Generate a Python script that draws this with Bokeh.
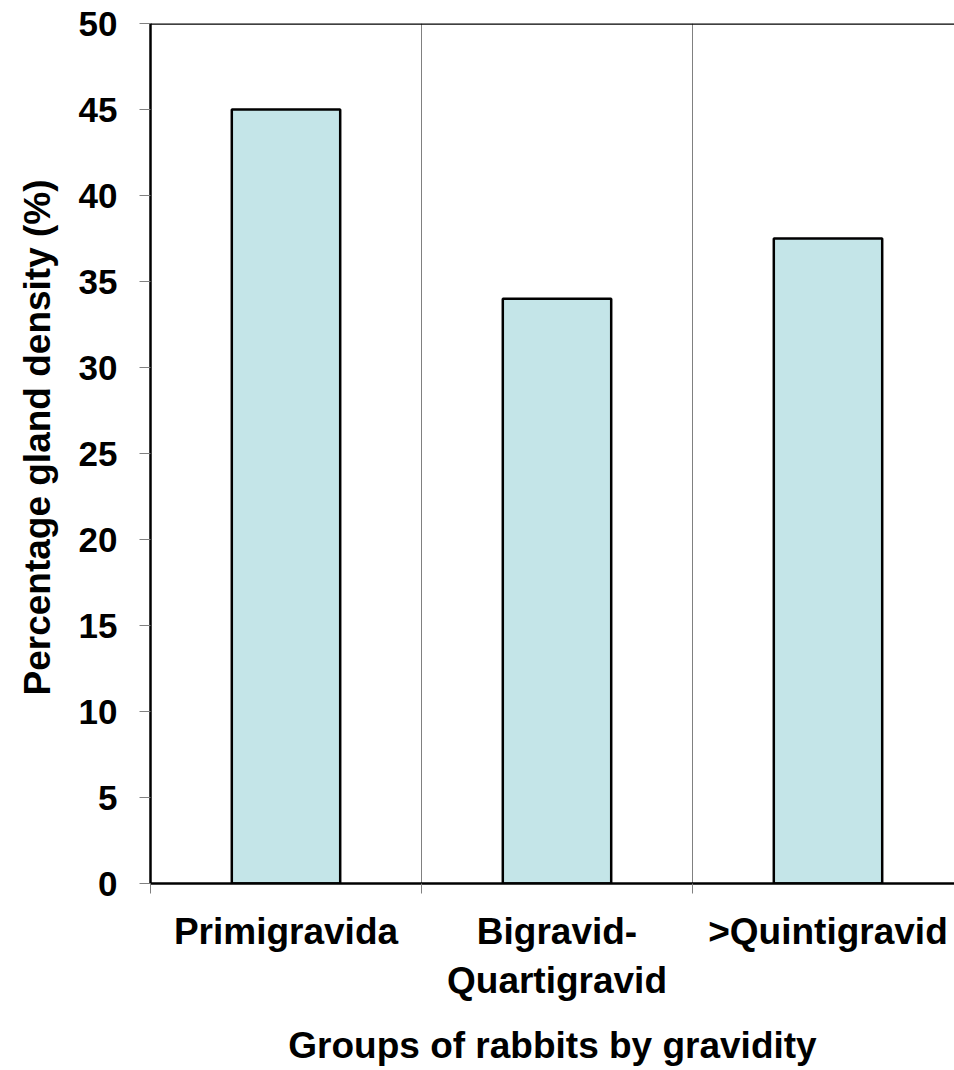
from bokeh.plotting import figure
from bokeh.models import FixedTicker, Range1d, Span, Title
from bokeh.embed import file_html
from bokeh.resources import INLINE

categories = ["Primigravida", "Bigravid-\nQuartigravid", ">Quintigravid"]
values = [45, 34, 37.5]
y_ticks = [0, 5, 10, 15, 20, 25, 30, 35, 40, 45, 50]
x_title = "Groups of rabbits by gravidity"
y_title = "Percentage gland density (%)"

FONT = "Liberation Sans"
xs = [i + 0.5 for i in range(len(categories))]

p = figure(width=954, height=1070, output_backend="svg", toolbar_location=None,
           x_range=Range1d(0, 804 / 271), y_range=Range1d(0, 50),
           min_border_left=150, min_border_top=23, min_border_right=0, min_border_bottom=187)

p.vbar(x=xs, top=values, width=0.4, fill_color="#C4E5E8", line_color="black", line_width=2.5)

p.outline_line_color = None
p.add_layout(Span(location=50, dimension="width", line_color="black", line_width=2.5))
p.background_fill_color = "white"
p.border_fill_color = "white"

# y axis
p.yaxis.ticker = FixedTicker(ticks=y_ticks, minor_ticks=[])
p.yaxis.axis_line_color = "black"
p.yaxis.axis_line_width = 2.5
p.yaxis.major_tick_line_color = "#808080"
p.yaxis.major_tick_out = 11
p.yaxis.major_tick_in = 0
p.yaxis.major_label_standoff = 22
p.yaxis.major_label_text_font = FONT
p.yaxis.major_label_text_font_style = "bold"
p.yaxis.major_label_text_font_size = "35px"
p.yaxis.major_label_text_color = "black"
p.ygrid.grid_line_color = None

# x axis
p.xaxis.ticker = FixedTicker(ticks=xs, minor_ticks=[0, 1, 2, 3])
p.xaxis.major_label_overrides = {x: c for x, c in zip(xs, categories)}
p.xaxis.axis_line_color = "black"
p.xaxis.axis_line_width = 2.5
p.xaxis.major_tick_line_color = None
p.xaxis.major_tick_out = 10
p.xaxis.minor_tick_line_color = "#808080"
p.xaxis.minor_tick_out = 10
p.xaxis.minor_tick_in = 0
p.xaxis.major_label_standoff = 17
p.xaxis.major_label_text_font = FONT
p.xaxis.major_label_text_font_style = "bold"
p.xaxis.major_label_text_font_size = "37px"
p.xaxis.major_label_text_color = "black"
p.xaxis.axis_label = x_title
p.xaxis.axis_label_text_font = FONT
p.xaxis.axis_label_text_font_style = "bold"
p.xaxis.axis_label_text_font_size = "37px"
p.xaxis.axis_label_text_color = "black"
p.xaxis.axis_label_standoff = 21
p.xgrid.ticker = FixedTicker(ticks=[1, 2], minor_ticks=[])
p.xgrid.grid_line_color = "#808080"
p.xgrid.grid_line_width = 1

yt = Title(text=y_title, align="left", offset=188, vertical_align="top",
           text_font=FONT, text_font_style="bold",
           text_font_size="37px", text_color="black", standoff=32)
p.add_layout(yt, "left")

open("out.html", "w").write(file_html(p, INLINE))
